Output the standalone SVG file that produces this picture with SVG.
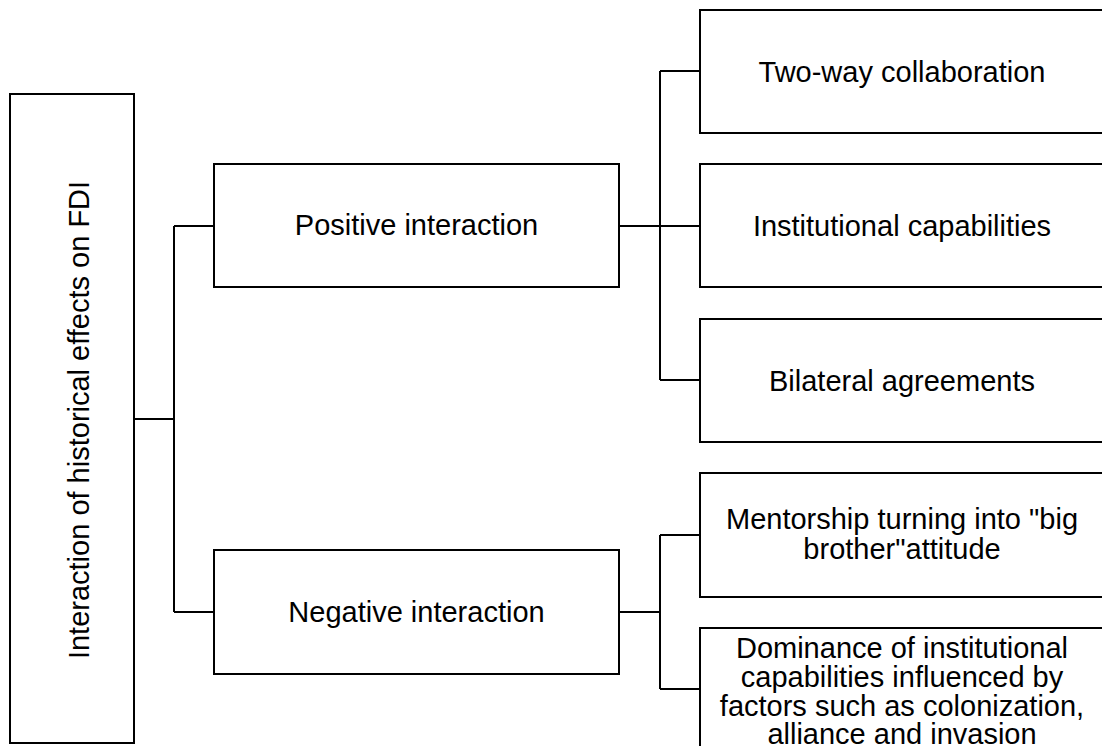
<svg xmlns="http://www.w3.org/2000/svg" width="1102" height="746" viewBox="0 0 1102 746">
  <style>
    .box { fill: #ffffff; stroke: #000000; stroke-width: 2; }
    .lbl { font-family: "Liberation Sans", Arial, sans-serif; font-size: 29px; fill: #000000; text-anchor: middle; }
    .wire { fill: none; stroke: #000000; stroke-width: 2; }
  </style>
  <rect width="1102" height="746" fill="#ffffff"/>

  <g id="connectors">
    <!-- root to the two branches -->
    <path class="wire" d="M134 419 H174 M174 226 V612 M174 226 H214 M174 612 H214"/>
    <!-- positive branch to its three leaves -->
    <path class="wire" d="M619 226 H700 M660 71 V380 M660 71 H700 M660 380 H700"/>
    <!-- negative branch to its two leaves -->
    <path class="wire" d="M619 612 H660 M660 535 V689 M660 535 H700 M660 689 H700"/>
  </g>

  <g id="root">
    <rect class="box" x="10" y="94" width="124" height="649"/>
    <text class="lbl" transform="translate(89 420) rotate(-90)" x="0" y="0">Interaction of historical effects on FDI</text>
  </g>

  <g id="positive">
    <rect class="box" x="214" y="164" width="405" height="123"/>
    <text class="lbl" x="416.5" y="235">Positive interaction</text>
  </g>

  <g id="negative">
    <rect class="box" x="214" y="550" width="405" height="124"/>
    <text class="lbl" x="416.5" y="622">Negative interaction</text>
  </g>

  <g id="two-way">
    <rect class="box" x="700" y="10" width="410" height="123"/>
    <text class="lbl" x="902" y="82">Two-way collaboration</text>
  </g>

  <g id="institutional">
    <rect class="box" x="700" y="164" width="410" height="123"/>
    <text class="lbl" x="902" y="236">Institutional capabilities</text>
  </g>

  <g id="bilateral">
    <rect class="box" x="700" y="319" width="410" height="123"/>
    <text class="lbl" x="902" y="391">Bilateral agreements</text>
  </g>

  <g id="mentorship">
    <rect class="box" x="700" y="473" width="410" height="124"/>
    <text class="lbl" x="902" y="529">Mentorship turning into "big</text>
    <text class="lbl" x="902" y="559">brother"attitude</text>
  </g>

  <g id="dominance">
    <rect class="box" x="700" y="628" width="410" height="130"/>
    <text class="lbl" x="902" y="658">Dominance of institutional</text>
    <text class="lbl" x="902" y="687">capabilities influenced by</text>
    <text class="lbl" x="902" y="716">factors such as colonization,</text>
    <text class="lbl" x="902" y="744">alliance and invasion</text>
  </g>
</svg>
